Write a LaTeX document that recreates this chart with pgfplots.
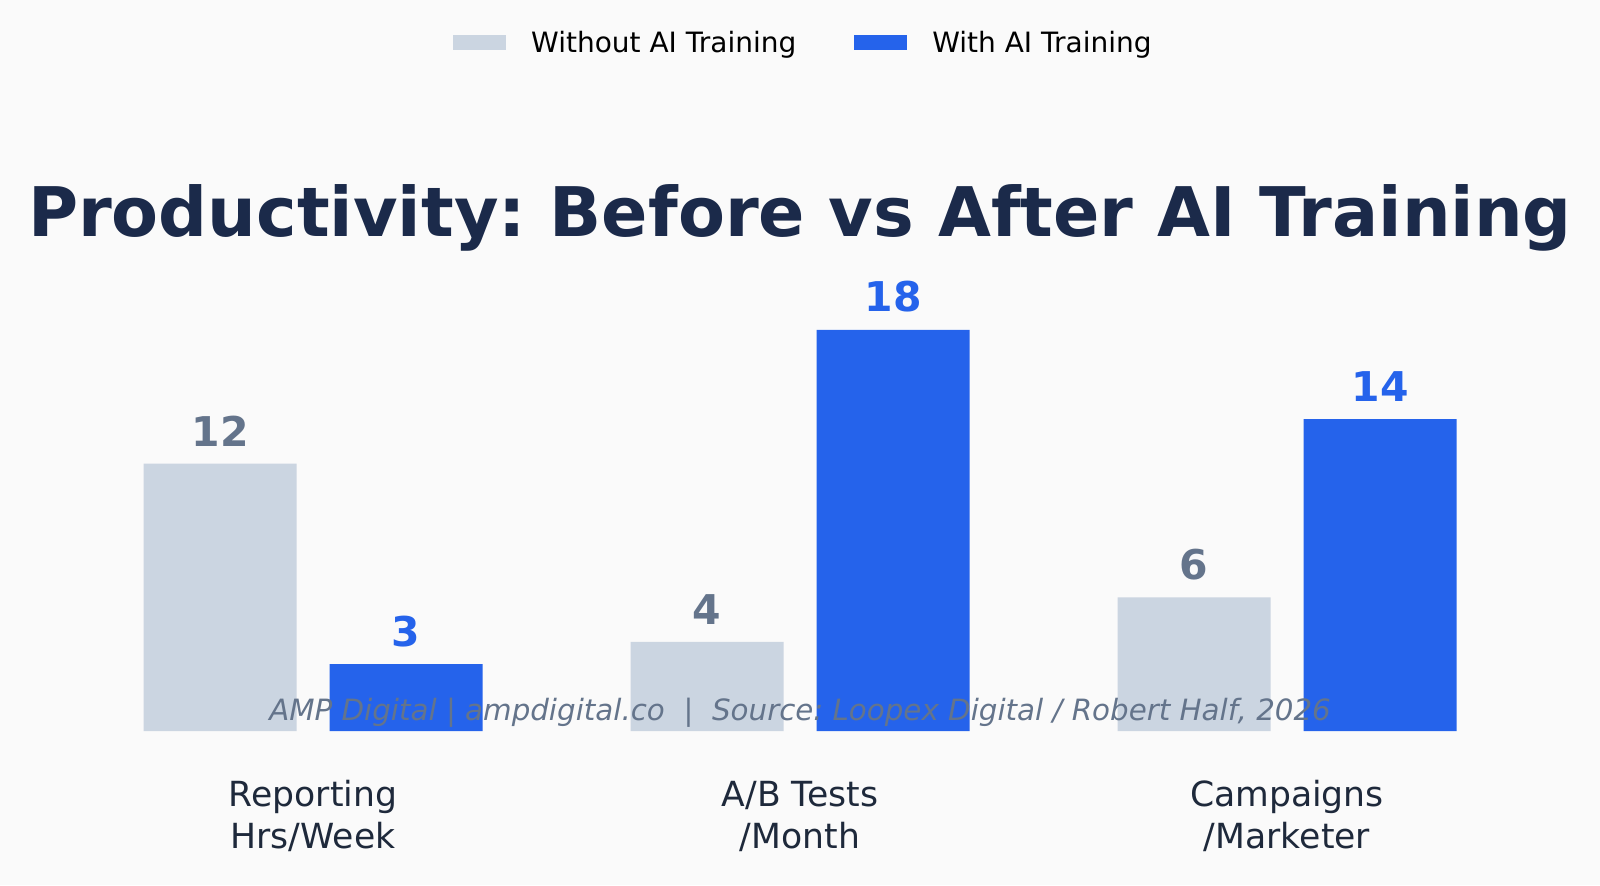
\documentclass[border=0pt]{standalone}
\usepackage{pgfplots}
\pgfplotsset{compat=1.18}
\usepackage{fontspec}
\setmainfont{DejaVu Sans}
\frenchspacing
\definecolor{bg}{HTML}{FAFAFA}
\definecolor{grayb}{HTML}{CBD5E1}
\definecolor{blueb}{HTML}{2563EB}
\definecolor{grayt}{HTML}{64748B}
\definecolor{titlec}{HTML}{1B2A4A}
\definecolor{labc}{HTML}{1E293B}
\begin{document}
\frenchspacing
\begin{tikzpicture}
\fill[bg] (0,0) rectangle (800pt,442.5pt);
\useasboundingbox (0,0) rectangle (800pt,442.5pt);
\begin{axis}[
  at={(34.75pt,77pt)}, anchor=south west,
  scale only axis, width=730.5pt, height=222.8pt,
  xmin=-0.5, xmax=2.5, ymin=0, ymax=20,
  axis line style={draw=none}, tick style={draw=none},
  ytick=\empty, xtick={0,1,2},
  xticklabels={{Reporting\\Hrs/Week},{A/B Tests\\/Month},{Campaigns\\/Marketer}},
  xticklabel style={align=center, font=\fontsize{17.3pt}{21pt}\selectfont, text=labc, anchor=center, yshift=-42.5pt},
  clip=false,
  /pgf/number format/assume math mode=true,
  legend style={at={(0.503,1.544)}, anchor=center, draw=none, fill=none, legend columns=2,
    font=\fontsize{14pt}{17pt}\selectfont,
    /tikz/every odd column/.append style={column sep=10.5pt},
    /tikz/every even column/.append style={column sep=27pt}},
  legend image code/.code={\fill[#1] (0pt,-3.75pt) rectangle (26.5pt,3.75pt);},
]
\addplot[ybar, fill=grayb, draw=none, bar width=76.5pt, bar shift=-46.5pt,
  nodes near coords,
  nodes near coords style={anchor=south, inner sep=0pt, xshift=-46.5pt, yshift=8.5pt, text=grayt, font=\fontsize{20.5pt}{24pt}\selectfont\bfseries}]
  coordinates {(0,12) (1,4) (2,6)};
\addlegendentry{Without AI Training}
\addplot[ybar, fill=blueb, draw=none, bar width=76.5pt, bar shift=46.5pt,
  nodes near coords,
  nodes near coords style={anchor=south, inner sep=0pt, xshift=46.5pt, yshift=8.5pt, text=blueb, font=\fontsize{20.5pt}{24pt}\selectfont\bfseries}]
  coordinates {(0,3) (1,18) (2,14)};
\addlegendentry{With AI Training}
\end{axis}
\node[font=\fontsize{34.2pt}{41pt}\selectfont\bfseries, text=titlec] at (400pt,333.5pt) {Productivity: Before vs After AI Training};
\node[font=\fontsize{14.66pt}{18pt}\selectfont\itshape, text=grayt] at (400pt,86pt) {AMP Digital | ampdigital.co \ | \ Source: Loopex Digital / Robert Half, 2026};
\end{tikzpicture}
\end{document}
